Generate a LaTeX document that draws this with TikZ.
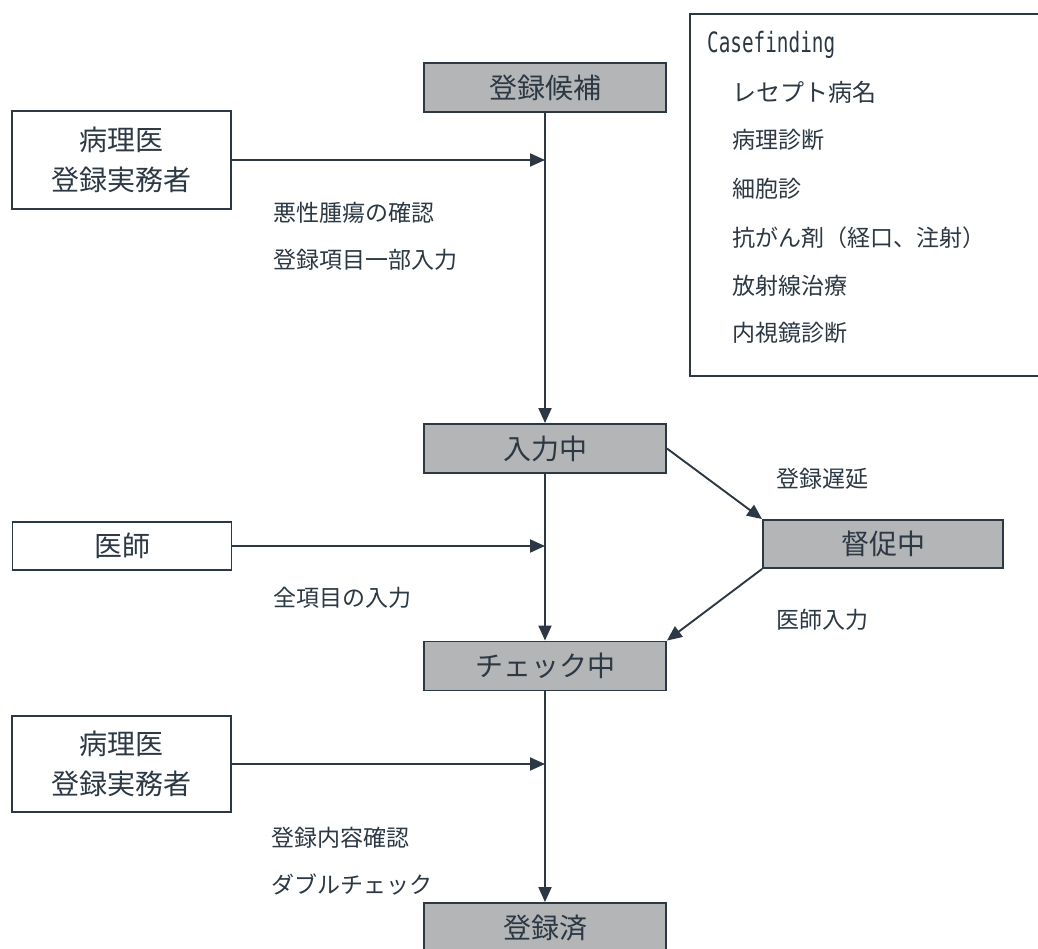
\documentclass[tikz,border=0pt]{standalone}
\usepackage{fontspec}
\setmainfont{Noto Sans CJK JP}
\newfontfamily\monof{DejaVu Sans Mono}
\usetikzlibrary{arrows.meta}
\definecolor{ink}{HTML}{2C3844}
\definecolor{boxgray}{HTML}{B3B5B6}
\begin{document}
\begin{tikzpicture}[x=1pt,y=-1pt,
  state/.style={draw=ink, line width=1.9pt, fill=boxgray, minimum width=242pt, minimum height=49pt, inner sep=0pt, font=\fontsize{28}{30}\selectfont, text=ink},
  actor/.style={draw=ink, line width=1.6pt, fill=white, minimum width=219pt, inner sep=0pt, font=\fontsize{28}{40}\selectfont, align=center, text=ink},
  lab/.style={anchor=west, inner sep=0pt, font=\fontsize{23}{25}\selectfont, text=ink},
  flow/.style={draw=ink, line width=1.9pt, -{Triangle[length=15pt,width=13pt]}}]
\useasboundingbox (0,0) rectangle (1038,949);
\clip (0,0) rectangle (1038,949);
\fill[white] (0,0) rectangle (1038,949);
% state boxes
\node[state] (cand) at (545,87.5) {登録候補};
\node[state] (inp) at (545,448.5) {入力中};
\node[state] (chk) at (545,666) {チェック中};
\node[state] (done) at (545,927.5) {登録済};
\node[state, minimum width=240pt, minimum height=48pt] (rem) at (883,544) {督促中};
% actors
\node[actor, minimum height=98pt] (a1) at (121.5,160) {病理医\\登録実務者};
\node[actor, minimum height=48pt] (a2) at (122,546) {医師};
\node[actor, minimum height=96pt] (a3) at (121.5,764) {病理医\\登録実務者};
% casefinding box
\node[draw=ink, line width=1.6pt, anchor=north west, minimum width=360pt, minimum height=362pt, inner sep=0pt] (cf) at (689,13) {};
\node[anchor=west, inner sep=0pt, text=ink, font=\monof\fontsize{28}{30}\selectfont] (cft) at (707,45) {\scalebox{0.69}[1]{Casefinding}};
\node[lab, font=\fontsize{24}{26}\selectfont] (c1) at (732,92) {レセプト病名};
\node[lab] (c2) at (732,140) {病理診断};
\node[lab] (c3) at (732,189) {細胞診};
\node[lab] (c4) at (732,238) {抗がん剤（経口、注射）};
\node[lab] (c5) at (732,286) {放射線治療};
\node[lab] (c6) at (732,333) {内視鏡診断};
% main flow
\draw[flow] (cand.south) -- (inp.north);
\draw[flow] (inp.south) -- (chk.north);
\draw[flow] (chk.south) -- (done.north);
\draw[flow] (inp.east) -- (rem.north west);
\draw[flow] (rem.south west) -- (chk.north east);
% actor inputs
\draw[flow] (a1.east) -- (a1.east -| cand.south);
\draw[flow] (a2.east) -- (a2.east -| cand.south);
\draw[flow] (a3.east) -- (a3.east -| cand.south);
% labels
\node[lab] (l1) at (273,213) {悪性腫瘍の確認};
\node[lab] (l2) at (273,260) {登録項目一部入力};
\node[lab] (l3) at (273,598) {全項目の入力};
\node[lab] (l4) at (776,479) {登録遅延};
\node[lab] (l5) at (776,620) {医師入力};
\node[lab] (l6) at (271,838) {登録内容確認};
\node[lab] (l7) at (271,884) {ダブルチェック};
\end{tikzpicture}
\end{document}
